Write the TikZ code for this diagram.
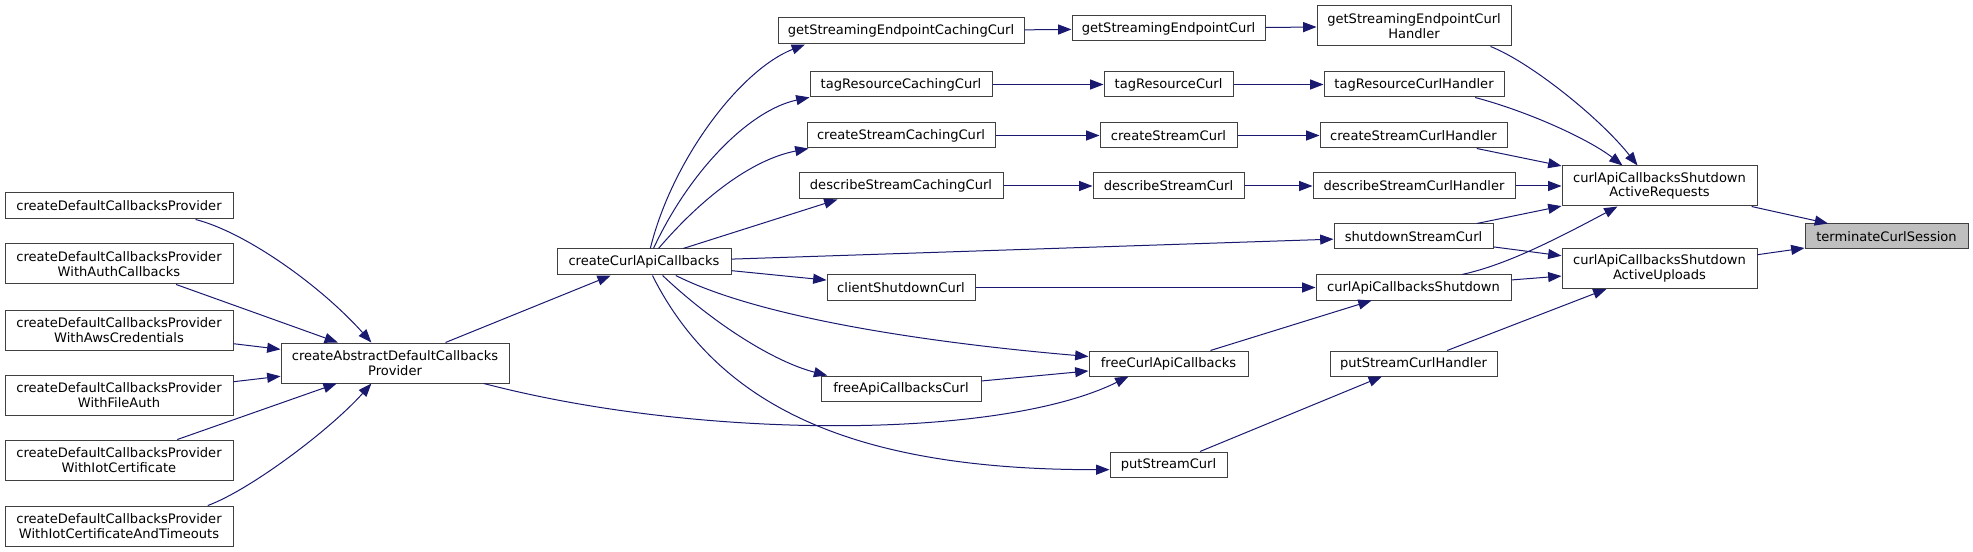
\documentclass[tikz,border=0pt]{standalone}
\usepackage{fontspec}
\setmainfont{DejaVu Sans}
\usetikzlibrary{arrows.meta}
\definecolor{edgeblue}{HTML}{191970}
\definecolor{boxline}{HTML}{404040}
\definecolor{hitgray}{HTML}{BFBFBF}
\begin{document}
\begin{tikzpicture}[x=0.75pt,y=-0.75pt,fn/.style={draw=boxline,fill=white,rectangle,line width=0.75pt,inner sep=0pt,align=center,font=\fontsize{9.8}{11}\selectfont},call/.style={draw=edgeblue,line width=0.75pt,-{Triangle[length=10pt,width=7.5pt]}}]
\useasboundingbox (0,0) rectangle (1973,552);
\foreach \nm/\cx/\cy/\bw/\bh/\txt in {dcp/119/206/228/26/createDefaultCallbacksProvider,dcpauth/119/264/228/40/{createDefaultCallbacksProvider\\WithAuthCallbacks},dcpaws/119/330/228/40/{createDefaultCallbacksProvider\\WithAwsCredentials},dcpfile/119/395/228/40/{createDefaultCallbacksProvider\\WithFileAuth},dcpiot/119/460/228/40/{createDefaultCallbacksProvider\\WithIotCertificate},dcpiott/119/526/228/40/{createDefaultCallbacksProvider\\WithIotCertificateAndTimeouts},abstract/395/363/228/40/{createAbstractDefaultCallbacks\\Provider},ccac/644/262/174/26/createCurlApiCallbacks,gsecc/901/31/246/26/getStreamingEndpointCachingCurl,trcc/901/84.5/182/25/tagResourceCachingCurl,cscc/901/135.5/188/25/createStreamCachingCurl,dscc/901/186/204/26/describeStreamCachingCurl,csd/901/287.5/148/25/clientShutdownCurl,facc/901/388.5/160/25/freeApiCallbacksCurl,gsec/1168.5/28.5/193/25/getStreamingEndpointCurl,trc/1168.5/84.5/129/25/tagResourceCurl,csc/1168.5/135.5/137/25/createStreamCurl,dsc/1168.5/186/151/26/describeStreamCurl,fcac/1168.5/363.5/159/25/freeCurlApiCallbacks,psc/1168.5/464.5/117/25/putStreamCurl,gsech/1414/26/194/40/{getStreamingEndpointCurl\\Handler},trch/1414/84.5/180/25/tagResourceCurlHandler,csch/1413.5/135.5/187/25/createStreamCurlHandler,dsch/1414/186/202/26/describeStreamCurlHandler,ssc/1413.5/236.5/159/25/shutdownStreamCurl,cacs/1413.5/287.5/195/25/curlApiCallbacksShutdown,psch/1413.5/363.5/167/25/putStreamCurlHandler,sar/1659.5/186/195/40/{curlApiCallbacksShutdown\\ActiveRequests},sau/1659.5/268.5/195/40/{curlApiCallbacksShutdown\\ActiveUploads}}{\node[fn,minimum width=\bw*0.75pt,minimum height=\bh*0.75pt] (\nm) at (\cx,\cy) {\txt};}
\node[fn,fill=hitgray,minimum width=163*0.75pt,minimum height=25*0.75pt] (tcs) at (1886.5,236.5) {terminateCurlSession};
\foreach \p/\q in {dcpauth/abstract,dcpaws/abstract,dcpfile/abstract,dcpiot/abstract,abstract/ccac,ccac/ssc,ccac/csd,ccac.19/dscc.192,gsecc/gsec,trcc/trc,cscc/csc,dscc/dsc,csd/cacs,facc/fcac,fcac/cacs,psc/psch,gsec/gsech,trc/trch,csc/csch,dsc/dsch,csch/sar,dsch/sar,ssc/sar,ssc/sau,cacs/sau,psch/sau,sar/tcs,sau/tcs}{\draw[call] (\p)--(\q);}
\draw[call] (dcp.350) .. controls (245,232) and (320,285) .. (abstract.139);
\draw[call] (dcpiott.13) .. controls (250,490) and (330,430) .. (abstract.221);
\draw[call] (abstract.347) .. controls (700,440) and (1000,440) .. (fcac.198);
\draw[call] (ccac.65) .. controls (672,160) and (740,70) .. (gsecc.188);
\draw[call] (ccac.55) .. controls (690,170) and (750,110) .. (trcc.188);
\draw[call] (ccac.43) .. controls (700,200) and (750,160) .. (cscc.188);
\draw[call] (ccac.337) .. controls (760,318) and (930,343) .. (fcac.175);
\draw[call] (ccac.324) .. controls (715,325) and (775,362) .. (facc.170);
\draw[call] (ccac.302) .. controls (720,410) and (860,470) .. (psc.185);
\draw[call] (gsech.345) .. controls (1530,62) and (1600,118) .. (sar.137);
\draw[call] (trch.348) .. controls (1530,112) and (1590,140) .. (sar.151);
\draw[call] (cacs.15) .. controls (1500,266) and (1540,248) .. (sar.206);
\end{tikzpicture}
\end{document}
